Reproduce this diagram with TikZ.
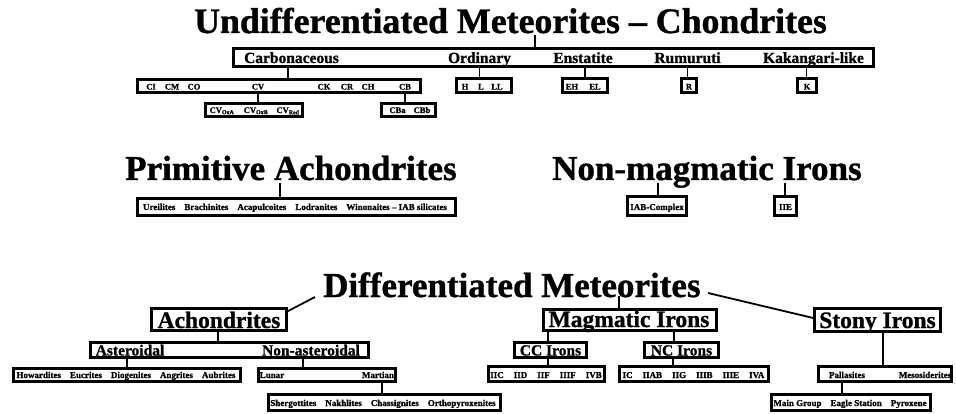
\documentclass[tikz,border=0pt]{standalone}
\usepackage{fontspec}
\setmainfont{Liberation Serif}[BoldFeatures={FakeBold=1}]
\tikzset{
  box/.style={draw, line width=2.6pt, inner sep=0pt, rectangle},
  link/.style={line width=1.8pt},
  title/.style={font=\fontsize{35}{40}\selectfont\bfseries, inner sep=0pt, anchor=base west},
  mid/.style={font=\fontsize{23.5}{26}\selectfont\bfseries, inner sep=0pt, anchor=base},
  sub/.style={font=\fontsize{15.5}{18}\selectfont\bfseries, inner sep=0pt, anchor=base},
  tiny/.style={font=\fontsize{9}{10}\selectfont\bfseries, inner sep=0pt, anchor=base},
  mini/.style={font=\fontsize{8.5}{9}\selectfont\bfseries, inner sep=0pt, anchor=base},
}
\newcommand{\gap}{\hspace{9pt}}
\begin{document}
\begin{tikzpicture}[x=1pt,y=-1pt]
\useasboundingbox (0,0) rectangle (956,414);
\fill[white] (0,0) rectangle (956,414);

% ---------------- Chondrites ----------------
\node[title, font=\fontsize{35.8}{40}\selectfont\bfseries] (t1) at (194,33) {Undifferentiated Meteorites -- Chondrites};
\node[box, minimum width=640, minimum height=18] (chond) at (553.5,57.5) {};
\node[sub] (carb) at (291.5,63) {Carbonaceous};
\node[sub] (ord)  at (479.5,63) {Ordinary};
\node[sub] (ens)  at (583,63) {Enstatite};
\node[sub] (rum)  at (687.5,63) {Rumuruti};
\node[sub] (kak)  at (813.5,63) {Kakangari-like};
\coordinate (t1c) at (535,35);
\draw[link] (t1c) -- (t1c |- chond.north);

\node[box, minimum width=283, minimum height=13.5] (carbsub) at (279,86) {};
\foreach \n/\x in {CI/151, CM/172, CO/194, CV/258, CK/324, CR/347, CH/368, CB/405}
  \node[mini] (c\n) at (\x,89.5) {\n};
\node[box, minimum width=55, minimum height=14] (ordsub) at (484,85.5) {};
\node[mini] (oh) at (465,89.5) {H};
\node[mini] (ol) at (481,89.5) {L};
\node[mini] (oll) at (497,89.5) {LL};
\node[box, minimum width=45, minimum height=14] (enssub) at (585,85.5) {};
\node[mini] (eh) at (572,89.5) {EH};
\node[mini] (el) at (595,89.5) {EL};
\node[box, minimum width=15, minimum height=14] (rsub) at (689,85.5) {};
\node[mini] (rr) at (689,89.5) {R};
\node[box, minimum width=19, minimum height=14] (ksub) at (807,85.5) {};
\node[mini] (kk) at (807,89.5) {K};

\draw[link] ([xshift=-3.5pt]carb.base |- chond.south) -- ([xshift=-3.5pt]carb.base |- carbsub.north);
\draw[link] (ord |- chond.south) -- (ord |- ordsub.north);
\draw[link] ([xshift=2pt]ens.base |- chond.south) -- ([xshift=2pt]ens.base |- enssub.north);
\draw[link] (rum |- chond.south) -- (rum |- rsub.north);
\draw[link] ([xshift=-7pt]kak.base |- chond.south) -- ([xshift=-7pt]kak.base |- ksub.north);

\node[box, minimum width=97, minimum height=13.5] (cvsub) at (254,110) {};
\node[mini] (cva) at (222,113) {CV\textsubscript{OxA}};
\node[mini] (cvb) at (256,113) {CV\textsubscript{OxB}};
\node[mini] (cvr) at (288,113) {CV\textsubscript{Red}};
\node[box, minimum width=54, minimum height=13.5] (cbsub) at (408.5,110) {};
\node[mini] (cba) at (397.5,113) {CBa};
\node[mini] (cbb) at (422,113) {CBb};
\draw[link] (cCV |- carbsub.south) -- (cCV |- cvsub.north);
\draw[link] (cCB |- carbsub.south) -- (cCB |- cbsub.north);

% ---------------- Primitive achondrites ----------------
\node[title] (t2) at (125,180) {Primitive Achondrites};
\node[box, minimum width=318, minimum height=17] (prim) at (296.5,207) {};
\node[tiny] (primtxt) at (295,210) {Ureilites\gap Brachinites\gap Acapulcoites\gap Lodranites\gap Winonaites -- IAB silicates};
\coordinate (t2c) at (280,183);
\draw[link] (t2c) -- (t2c |- prim.north);

% ---------------- Non-magmatic irons ----------------
\node[title] (t3) at (552,180) {Non-magmatic Irons};
\node[box, minimum width=59, minimum height=19] (iab) at (657,206) {};
\node[tiny] (iabtxt) at (657,210) {IAB-Complex};
\node[box, minimum width=22, minimum height=19] (iie) at (785.5,206) {};
\node[tiny] (iietxt) at (785.5,210) {IIE};
\coordinate (t3a) at (658,183);
\coordinate (t3b) at (785,183);
\draw[link] (t3a) -- (t3a |- iab.north);
\draw[link] (t3b) -- (t3b |- iie.north);

% ---------------- Differentiated meteorites ----------------
\node[title] (t4) at (323,297) {Differentiated Meteorites};

\node[box, minimum width=135, minimum height=22] (achon) at (219,319.5) {};
\node[mid] (achontxt) at (219,328) {Achondrites};
\node[box, minimum width=173, minimum height=21] (magm) at (630,320) {};
\node[mid] (magmtxt) at (629,327) {Magmatic Irons};
\node[box, minimum width=126, minimum height=23] (stony) at (877.5,320) {};
\node[mid] (stonytxt) at (877.5,328) {Stony Irons};

\coordinate (t4l) at (315,297);
\coordinate (t4m) at (619,296);
\coordinate (t4r) at (708,293);
\draw[link] (t4l) -- ([yshift=-4pt]achon.north east);
\draw[link] (t4m) -- (t4m |- magm.north);
\draw[link] (t4r) -- ([yshift=2pt]stony.west);

% achondrites branch
\node[box, minimum width=278, minimum height=15] (astbox) at (229.5,350) {};
\node[sub] (ast) at (130,355.5) {Asteroidal};
\node[sub] (nast) at (311,355.5) {Non-asteroidal};
\draw[link] ([xshift=-1pt]achon.south) -- ([xshift=-1pt]achon.south |- astbox.north);

\node[box, minimum width=227, minimum height=13.5] (astsub) at (127,375) {};
\node[tiny] (asttxt) at (126,378) {Howardites\gap Eucrites\gap Diogenites\gap Angrites\gap Aubrites};
\node[box, minimum width=137, minimum height=13.5] (nastsub) at (327,375) {};
\node[tiny] (lunar) at (272,378) {Lunar};
\node[tiny] (mars) at (378,378) {Martian};
\draw[link] ([xshift=-3pt]ast.base |- astbox.south) -- ([xshift=-3pt]ast.base |- astsub.north);
\draw[link] ([xshift=-8pt]nast.base |- astbox.south) -- ([xshift=-8pt]nast.base |- nastsub.north);

\node[box, minimum width=232, minimum height=16] (marsub) at (384.5,402.5) {};
\node[tiny] (martxt) at (383,406) {Shergottites\gap Nakhlites\gap Chassignites\gap Orthopyroxenites};
\draw[link] ([xshift=4pt]mars.base |- nastsub.south) -- ([xshift=4pt]mars.base |- marsub.north);

% magmatic irons branch
\node[box, minimum width=72, minimum height=15] (cc) at (550.5,350) {};
\node[sub] (cctxt) at (550.5,355.5) {CC Irons};
\node[box, minimum width=74, minimum height=15] (nc) at (681.5,350) {};
\node[sub] (nctxt) at (681.5,355.5) {NC Irons};
\coordinate (ccx) at (548,0);
\coordinate (ncx) at (674,0);
\draw[link] (ccx |- magm.south) -- (ccx |- cc.north);
\draw[link] (ncx |- magm.south) -- (ncx |- nc.north);

\node[box, minimum width=116, minimum height=14.5] (ccsub) at (546.5,374) {};
\node[tiny] (cclist) at (546,378) {IIC\hspace{10pt}IID\hspace{10pt}IIF\hspace{10pt}IIIF\hspace{10pt}IVB};
\node[box, minimum width=149, minimum height=14.5] (ncsub) at (694,374) {};
\node[tiny] (nclist) at (693.5,378) {IC\hspace{10pt}IIAB\hspace{10pt}IIG\hspace{10pt}IIIB\hspace{10pt}IIIE\hspace{10pt}IVA};
\draw[link] (ccx |- cc.south) -- (ccx |- ccsub.north);
\draw[link] ([xshift=-1pt]ncx |- nc.south) -- ([xshift=-1pt]ncx |- ncsub.north);

% stony irons branch
\node[box, minimum width=133, minimum height=14.5] (palbox) at (885,374) {};
\node[tiny] (pal) at (847,378) {Pallasites};
\node[tiny] (meso) at (925,378) {Mesosiderites};
\draw[link] ([xshift=5.5pt]stony.south) -- ([xshift=5.5pt]stony.south |- palbox.north);

\node[box, minimum width=159, minimum height=16] (palsub) at (851,402.5) {};
\node[tiny] (paltxt) at (850,406) {Main Group\gap Eagle Station\gap Pyroxene};
\draw[link] ([xshift=-5pt]pal.base |- palbox.south) -- ([xshift=-5pt]pal.base |- palsub.north);

\end{tikzpicture}
\end{document}
